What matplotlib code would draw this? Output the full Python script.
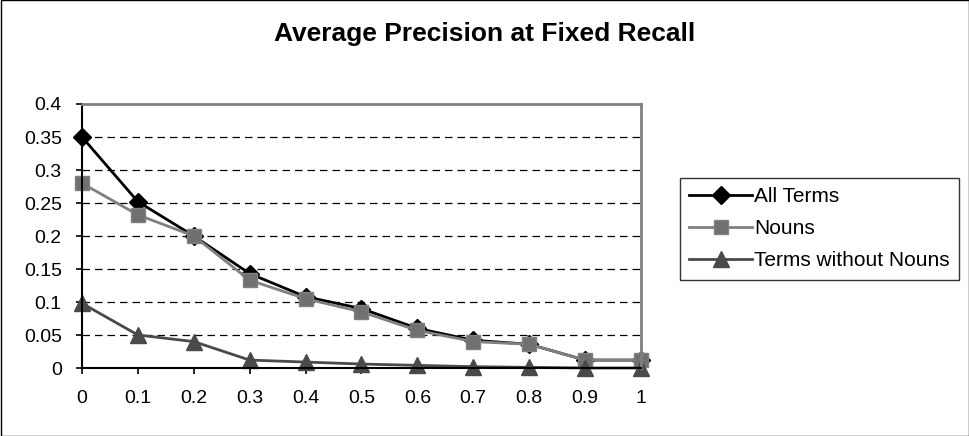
import matplotlib
matplotlib.use("Agg")
import matplotlib.pyplot as plt
from matplotlib.patches import Rectangle

recall = [0, 0.1, 0.2, 0.3, 0.4, 0.5, 0.6, 0.7, 0.8, 0.9, 1]
recall_labels = ["0", "0.1", "0.2", "0.3", "0.4", "0.5", "0.6", "0.7", "0.8", "0.9", "1"]
all_terms = [0.35, 0.252, 0.2, 0.143, 0.108, 0.09, 0.06, 0.042, 0.036, 0.012, 0.012]
nouns = [0.28, 0.232, 0.2, 0.133, 0.105, 0.085, 0.057, 0.04, 0.036, 0.012, 0.012]
no_nouns = [0.098, 0.05, 0.04, 0.012, 0.009, 0.006, 0.004, 0.002, 0.001, 0.0, 0.0]
y_ticks = [0, 0.05, 0.1, 0.15, 0.2, 0.25, 0.3, 0.35, 0.4]
y_labels = ["0", "0.05", "0.1", "0.15", "0.2", "0.25", "0.3", "0.35", "0.4"]

plt.rcParams['font.family'] = ['Liberation Sans', 'DejaVu Sans']

fig = plt.figure(figsize=(9.7, 4.36), dpi=100)
ax = fig.add_axes([82/970, 1-368/436, (641-82)/970, (368-104)/436])

ax.plot(recall, all_terms, color='black', lw=2, marker='D', ms=9, mfc='black', mec='black', label='All Terms', zorder=3)
ax.plot(recall, nouns, color='#808080', lw=2, marker='s', ms=10, mfc='#707070', mec='#808080', label='Nouns', zorder=4)
ax.plot(recall, no_nouns, color='#4a4a4a', lw=2, marker='^', ms=11, mfc='#4a4a4a', mec='#4a4a4a', label='Terms without Nouns', zorder=5)

ax.set_xlim(0, 1)
ax.set_ylim(0, 0.4)
ax.set_xticks(recall)
ax.set_xticklabels(recall_labels)
ax.set_yticks(y_ticks)
ax.set_yticklabels(y_labels)
for y in y_ticks[1:-1]:
    ax.axhline(y, color='black', lw=0.9, ls=(0, (6, 4)), zorder=1)
ax.spines['left'].set_color('black')
ax.spines['bottom'].set_color('black')
ax.spines['top'].set_color('#808080')
ax.spines['right'].set_color('#808080')
ax.spines['top'].set_linewidth(2)
ax.spines['right'].set_linewidth(2)
ax.spines['left'].set_linewidth(1.5)
ax.spines['bottom'].set_linewidth(1.5)
for s in ax.spines.values():
    s.set_zorder(6)
ax.tick_params(axis='both', direction='out', length=4.5, width=1.2, labelsize=14, color='black')
ax.tick_params(axis='y', pad=10)
ax.tick_params(axis='x', pad=11)
for line in ax.get_lines():
    line.set_clip_on(False)

fig.text(0.5, 1-34/436, 'Average Precision at Fixed Recall', ha='center', va='center',
         fontsize=19, fontweight='bold')

leg = ax.legend(loc='upper left', bbox_to_anchor=(680/970, 1-178/436), bbox_transform=fig.transFigure,
                frameon=True, fancybox=False, fontsize=15, handlelength=3.0, handletextpad=0.1,
                borderpad=0.45, labelspacing=0.62, borderaxespad=0)
leg.get_frame().set_edgecolor('black')
leg.get_frame().set_linewidth(1)

fig.patches.append(Rectangle((0.5/970, 0.5/436), 1-1/970, 1-1/436, transform=fig.transFigure,
                             fill=False, edgecolor='black', lw=1))

fig.savefig('out.png', dpi=100)
